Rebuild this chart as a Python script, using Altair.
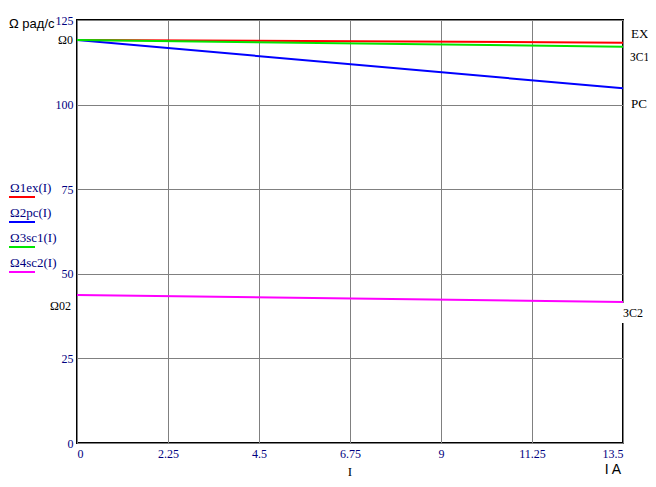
import altair as alt
import pandas as pd

# Data
x_vals = [0, 13.5]
series_names = ["Ω1ex(I)", "Ω2pc(I)", "Ω3sc1(I)", "Ω4sc2(I)"]
series_start = [119.1, 119.1, 119.1, 43.7]
series_end = [118.3, 104.8, 117.1, 41.7]
series_colors = ["#ff0000", "#0000ff", "#00e600", "#ff00ff"]
x_ticks = [0, 2.25, 4.5, 6.75, 9, 11.25, 13.5]
y_ticks = [0, 25, 50, 75, 100, 125]
trace_labels = ["EX", "ЗС1", "PC", "ЗС2"]

rows = []
for name, s, e in zip(series_names, series_start, series_end):
    rows.append({"I": x_vals[0], "Omega": s, "series": name})
    rows.append({"I": x_vals[1], "Omega": e, "series": name})
df = pd.DataFrame(rows)

W, H = 546, 423
serif = "Liberation Serif"
navy = "#000080"

x_enc = alt.X("I:Q", scale=alt.Scale(domain=[0, 13.5], nice=False),
              axis=alt.Axis(values=x_ticks, title=None, grid=True, ticks=False,
                            domain=False, labelFont=serif, labelFontSize=12,
                            labelColor=navy, labelPadding=5,
                            labelExpr="datum.value == 0 ? '0' : format(datum.value, '.4~f')"))
y_enc = alt.Y("Omega:Q", scale=alt.Scale(domain=[0, 125], nice=False),
              axis=alt.Axis(values=y_ticks, title=None, grid=True, ticks=False,
                            domain=False, labelFont=serif, labelFontSize=12,
                            labelColor=navy, labelPadding=4))

lines = alt.Chart(df).mark_line(strokeWidth=2, clip=True).encode(
    x=x_enc, y=y_enc,
    color=alt.Color("series:N", scale=alt.Scale(domain=series_names, range=series_colors),
                    legend=None),
    detail="series:N",
)

layers = [lines]

# Custom legend on the left
for i, (name, col) in enumerate(zip(series_names, series_colors)):
    ty = 172 + i * 25
    layers.append(alt.Chart(pd.DataFrame({"t": [name]})).mark_text(
        align="left", baseline="alphabetic", font=serif, fontSize=13, color=navy
    ).encode(text="t:N", x=alt.value(-67), y=alt.value(ty)))
    layers.append(alt.Chart(pd.DataFrame({"t": [name]})).mark_rule(
        color=col, strokeWidth=2
    ).encode(x=alt.value(-68), x2=alt.value(-42), y=alt.value(ty + 5)))

# White gap behind ЗС2 label on right border
layers.append(alt.Chart(pd.DataFrame({"t": [1]})).mark_rect(color="white").encode(
    x=alt.value(543), x2=alt.value(549), y=alt.value(283), y2=alt.value(303)))

# Trace labels on the right
tl_pos = [(554, 14), (553, 38), (554, 84), (546, 293)]
tl_size = [13, 11.5, 13, 12]
for lab, (px, py), fs in zip(trace_labels, tl_pos, tl_size):
    layers.append(alt.Chart(pd.DataFrame({"t": [lab]})).mark_text(
        align="left", baseline="middle", font=serif, fontSize=fs, color="black"
    ).encode(text="t:N", x=alt.value(px), y=alt.value(py)))

# Axis annotations
ann = [
    ("Ω рад/с", -68, 4, "left", "Liberation Sans", 13, "black"),
    ("Ω0", -4, 20, "right", serif, 12, "black"),
    ("Ω02", -6, 286, "right", serif, 12, "black"),
    ("I", 273, 452, "center", serif, 13, "black"),
    ("I A", 536, 450, "center", "Liberation Sans", 14, "black"),
]
for t, px, py, al, fnt, fs, colr in ann:
    layers.append(alt.Chart(pd.DataFrame({"t": [t]})).mark_text(
        align=al, baseline="middle", font=fnt, fontSize=fs, color=colr
    ).encode(text="t:N", x=alt.value(px), y=alt.value(py)))

chart = alt.layer(*layers).properties(
    width=W, height=H,
    autosize=alt.AutoSizeParams(type="none"),
    padding={"left": 69, "top": 12, "right": 25, "bottom": 36},
    background="white",
).configure_view(stroke="black", strokeWidth=2).configure_axis(
    gridColor="#808080", gridWidth=1, gridOpacity=1
)

chart.save("out.html", embed_options={"renderer": "svg", "actions": False})
